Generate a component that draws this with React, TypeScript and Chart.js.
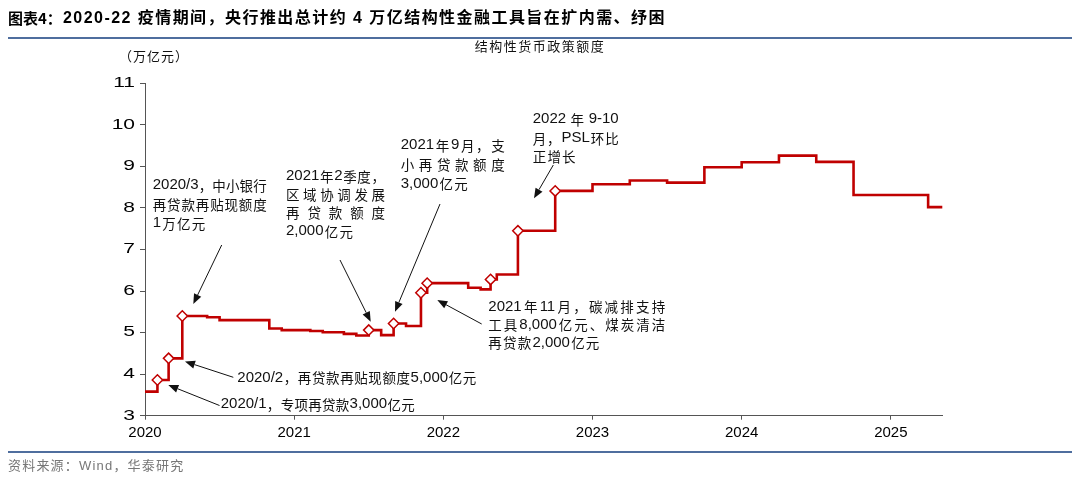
import React, { useEffect, useRef } from 'react';
import { Chart, registerables } from 'chart.js';

Chart.register(...registerables);

// ---- data (months counted from Jan 2020) ----
const STEP_MONTHS = [0, 1, 1.9, 3, 5, 6, 10, 11, 13.3, 14.3, 16, 17, 18, 19, 20, 21, 22.2, 22.7, 26, 27, 27.8, 28.3, 30, 33, 36, 39, 42, 45, 48, 51, 54, 57, 63, 64.2];
const STEP_VALUES = [3.58, 3.86, 4.38, 5.4, 5.37, 5.3, 5.1, 5.06, 5.04, 5.01, 4.97, 4.93, 5.06, 4.94, 5.22, 5.16, 5.96, 6.19, 6.08, 6.04, 6.28, 6.4, 7.45, 8.41, 8.57, 8.66, 8.61, 8.98, 9.1, 9.26, 9.11, 8.31, 8.02, 8.02];
const MARKED_MONTHS = [1, 1.9, 3, 18, 20, 22.2, 22.7, 27.8, 30, 33];
const YEAR_LABELS = ['2020', '2021', '2022', '2023', '2024', '2025'];
const Y_TICKS = [3, 4, 5, 6, 7, 8, 9, 10, 11];

const TITLE_PREFIX = '图表4：';
const TITLE_BODY = '2020-22 疫情期间，央行推出总计约 4 万亿结构性金融工具旨在扩内需、纾困';
const SUBTITLE = '结构性货币政策额度';
const UNIT_LABEL = '（万亿元）';
const SOURCE = '资料来源：Wind，华泰研究';

const NOTES = [
  { lines: ['2020/3，中小银行', '再贷款再贴现额度', '1万亿元'] },
  { lines: ['2020/2，再贷款再贴现额度5,000亿元'] },
  { lines: ['2020/1，专项再贷款3,000亿元'] },
  { lines: ['2021年2季度，', '区域协调发展', '再贷款额度', '2,000亿元'] },
  { lines: ['2021年9月，支', '小再贷款额度', '3,000亿元'] },
  { lines: ['2022 年 9-10', '月，PSL环比', '正增长'] },
  { lines: ['2021年11月，碳减排支持', '工具8,000亿元、煤炭清洁', '再贷款2,000亿元'] },
];

// ---- layout (pixels) for the notes: text origin, line gap, justified width per line, arrow tail/tip ----
const NOTE_LAYOUT = [
  { x: 152.7, y: 185, gap: 19, widths: [114, 114, 0], arrow: [221.7, 245, 193.3, 304] },
  { x: 237.3, y: 377.7, gap: 0, widths: [239], arrow: [233.3, 377.3, 185, 361.5] },
  { x: 220.7, y: 404.3, gap: 0, widths: [194], arrow: [219.5, 405.5, 168.3, 385] },
  { x: 286, y: 176, gap: 18.4, widths: [99, 99, 99, 0], arrow: [340, 260, 370.7, 321.7] },
  { x: 400.7, y: 145, gap: 19.2, widths: [104, 104, 0], arrow: [440, 204, 395, 311.7] },
  { x: 532.7, y: 119.3, gap: 18.7, widths: [86, 86, 0], arrow: [553.3, 165, 534, 198.3] },
  { x: 488.3, y: 306.7, gap: 18, widths: [177, 177, 0], arrow: [481.7, 324, 437.3, 300] },
];

const RED = '#C00000';
const LATIN_FONT = '15px "Liberation Sans", Arial, sans-serif';
const CJK_FONT = '13.5px "Noto Sans CJK SC", sans-serif';

type Tok = { t: string; latin: boolean };

function tokenize(s: string): Tok[] {
  const out: Tok[] = [];
  let buf = '';
  for (const ch of s) {
    const code = ch.codePointAt(0) || 0;
    if (ch === ' ') {
      if (buf) { out.push({ t: buf, latin: true }); buf = ''; }
    } else if (code < 128) {
      buf += ch;
    } else {
      if (buf) { out.push({ t: buf, latin: true }); buf = ''; }
      out.push({ t: ch, latin: false });
    }
  }
  if (buf) out.push({ t: buf, latin: true });
  return out;
}

function drawLine(ctx: CanvasRenderingContext2D, text: string, x: number, y: number, width: number) {
  const toks = tokenize(text);
  const ws = toks.map((k) => {
    ctx.font = k.latin ? LATIN_FONT : CJK_FONT;
    return ctx.measureText(k.t).width;
  });
  const nat = ws.reduce((a, b) => a + b, 0);
  let gap = 1.2;
  if (width > 0 && toks.length > 1) gap = (width - nat) / (toks.length - 1);
  let cx = x;
  toks.forEach((k, i) => {
    ctx.font = k.latin ? LATIN_FONT : CJK_FONT;
    ctx.fillText(k.t, cx, k.latin ? y : y + 0.5);
    cx += ws[i] + gap;
  });
}

function drawArrow(ctx: CanvasRenderingContext2D, x1: number, y1: number, x2: number, y2: number) {
  const a = Math.atan2(y2 - y1, x2 - x1);
  const L = 10;
  const W = 4;
  const c = Math.cos(a);
  const s = Math.sin(a);
  const bx = x2 - L * c;
  const by = y2 - L * s;
  ctx.beginPath();
  ctx.moveTo(x1, y1);
  ctx.lineTo(bx, by);
  ctx.stroke();
  ctx.beginPath();
  ctx.moveTo(x2, y2);
  ctx.lineTo(bx + W * s, by - W * c);
  ctx.lineTo(bx - W * s, by + W * c);
  ctx.closePath();
  ctx.fill();
}

const notesPlugin = {
  id: 'notesPlugin',
  afterDraw(chart: any) {
    const ctx: CanvasRenderingContext2D = chart.ctx;
    const yScale = chart.scales.y;
    ctx.save();
    // stretched y tick labels
    ctx.fillStyle = '#000';
    ctx.font = '14px "Liberation Sans", Arial, sans-serif';
    ctx.textAlign = 'right';
    ctx.textBaseline = 'middle';
    Y_TICKS.forEach((v) => {
      const py = yScale.getPixelForValue(v);
      ctx.save();
      ctx.translate(135, py);
      ctx.scale(1.5, 1);
      ctx.fillText(String(v), 0, 0);
      ctx.restore();
    });
    // notes
    ctx.textAlign = 'left';
    ctx.textBaseline = 'middle';
    ctx.fillStyle = '#111';
    ctx.strokeStyle = '#111';
    ctx.lineWidth = 1;
    NOTES.forEach((n, i) => {
      const L = NOTE_LAYOUT[i];
      n.lines.forEach((ln, j) => {
        drawLine(ctx, ln, L.x, L.y + j * L.gap, L.widths[j] || 0);
      });
      const [x1, y1, x2, y2] = L.arrow;
      drawArrow(ctx, x1, y1, x2, y2);
    });
    ctx.restore();
  },
};

export default function App() {
  const ref = useRef<HTMLCanvasElement | null>(null);

  useEffect(() => {
    if (!ref.current) return;
    const points = STEP_MONTHS.map((m, i) => ({ x: m, y: STEP_VALUES[i] }));
    const chart = new Chart(ref.current, {
      type: 'line',
      data: {
        datasets: [
          {
            data: points,
            stepped: true,
            borderColor: RED,
            borderWidth: 2.6,
            borderCapStyle: 'butt',
            borderJoinStyle: 'miter',
            pointStyle: 'rectRot',
            pointRadius: (c: any) => (MARKED_MONTHS.includes(STEP_MONTHS[c.dataIndex]) ? 5.2 : 0),
            pointBackgroundColor: '#ffffff',
            pointBorderColor: RED,
            pointBorderWidth: 1.5,
            fill: false,
          } as any,
        ],
      },
      options: {
        animation: false,
        responsive: false,
        devicePixelRatio: 1,
        events: [],
        layout: { padding: { left: 0, top: 83.3, right: 137.7, bottom: 21.3 } },
        plugins: { legend: { display: false }, tooltip: { enabled: false } },
        scales: {
          x: {
            type: 'linear',
            min: 0,
            max: 64.14,
            afterFit: (s: any) => { s.height = 40; },
            grid: { display: true, drawOnChartArea: false, drawTicks: true, tickLength: 4, color: '#555' },
            border: { display: true, color: '#555', width: 1 },
            ticks: {
              stepSize: 12,
              includeBounds: false,
              maxRotation: 0,
              autoSkip: false,
              padding: 4,
              color: '#000',
              font: { family: '"Liberation Sans", Arial, sans-serif', size: 15 },
              callback: (v: any) => YEAR_LABELS[Math.round(Number(v) / 12)] ?? '',
            },
          },
          y: {
            min: 3,
            max: 11,
            afterFit: (s: any) => { s.width = 145; },
            grid: { display: true, drawOnChartArea: false, drawTicks: true, tickLength: 5, color: '#555' },
            border: { display: true, color: '#555', width: 1 },
            ticks: { stepSize: 1, display: false },
          },
        },
      },
      plugins: [notesPlugin],
    } as any);
    return () => chart.destroy();
  }, []);

  const cjk = '"Liberation Sans", "Noto Sans CJK SC", sans-serif';
  return (
    <div style={{ position: 'absolute', left: 0, top: 0, width: 1080, height: 477, background: '#fff', overflow: 'hidden' }}>
      <canvas ref={ref} width={1080} height={477} style={{ position: 'absolute', left: 0, top: 0, width: 1080, height: 477 }} />
      <div style={{ position: 'absolute', left: 8, top: 8, fontFamily: '"Noto Sans CJK SC", sans-serif', fontSize: 15, fontWeight: 'bold', lineHeight: '20px', whiteSpace: 'nowrap', color: '#000' }}>{TITLE_PREFIX}</div>
      <div style={{ position: 'absolute', left: 63, top: 8, fontFamily: cjk, fontSize: 16, fontWeight: 'bold', lineHeight: '20px', letterSpacing: '1.45px', whiteSpace: 'nowrap', color: '#000' }}>{TITLE_BODY}</div>
      <div style={{ position: 'absolute', left: 8, top: 37, width: 1064, height: 2, background: '#4F6E9E' }} />
      <div style={{ position: 'absolute', left: 340, width: 400, top: 39, textAlign: 'center', fontFamily: cjk, fontSize: 13, letterSpacing: '1.5px', lineHeight: '16px', color: '#111' }}>{SUBTITLE}</div>
      <div style={{ position: 'absolute', left: 119, top: 49, fontFamily: cjk, fontSize: 13, letterSpacing: '1px', lineHeight: '16px', color: '#111', whiteSpace: 'nowrap' }}>{UNIT_LABEL}</div>
      <div style={{ position: 'absolute', left: 8, top: 451, width: 1064, height: 2, background: '#4F6E9E' }} />
      <div style={{ position: 'absolute', left: 8, top: 458, fontFamily: cjk, fontSize: 13, letterSpacing: '1.2px', lineHeight: '16px', color: '#777', whiteSpace: 'nowrap' }}>{SOURCE}</div>
    </div>
  );
}
